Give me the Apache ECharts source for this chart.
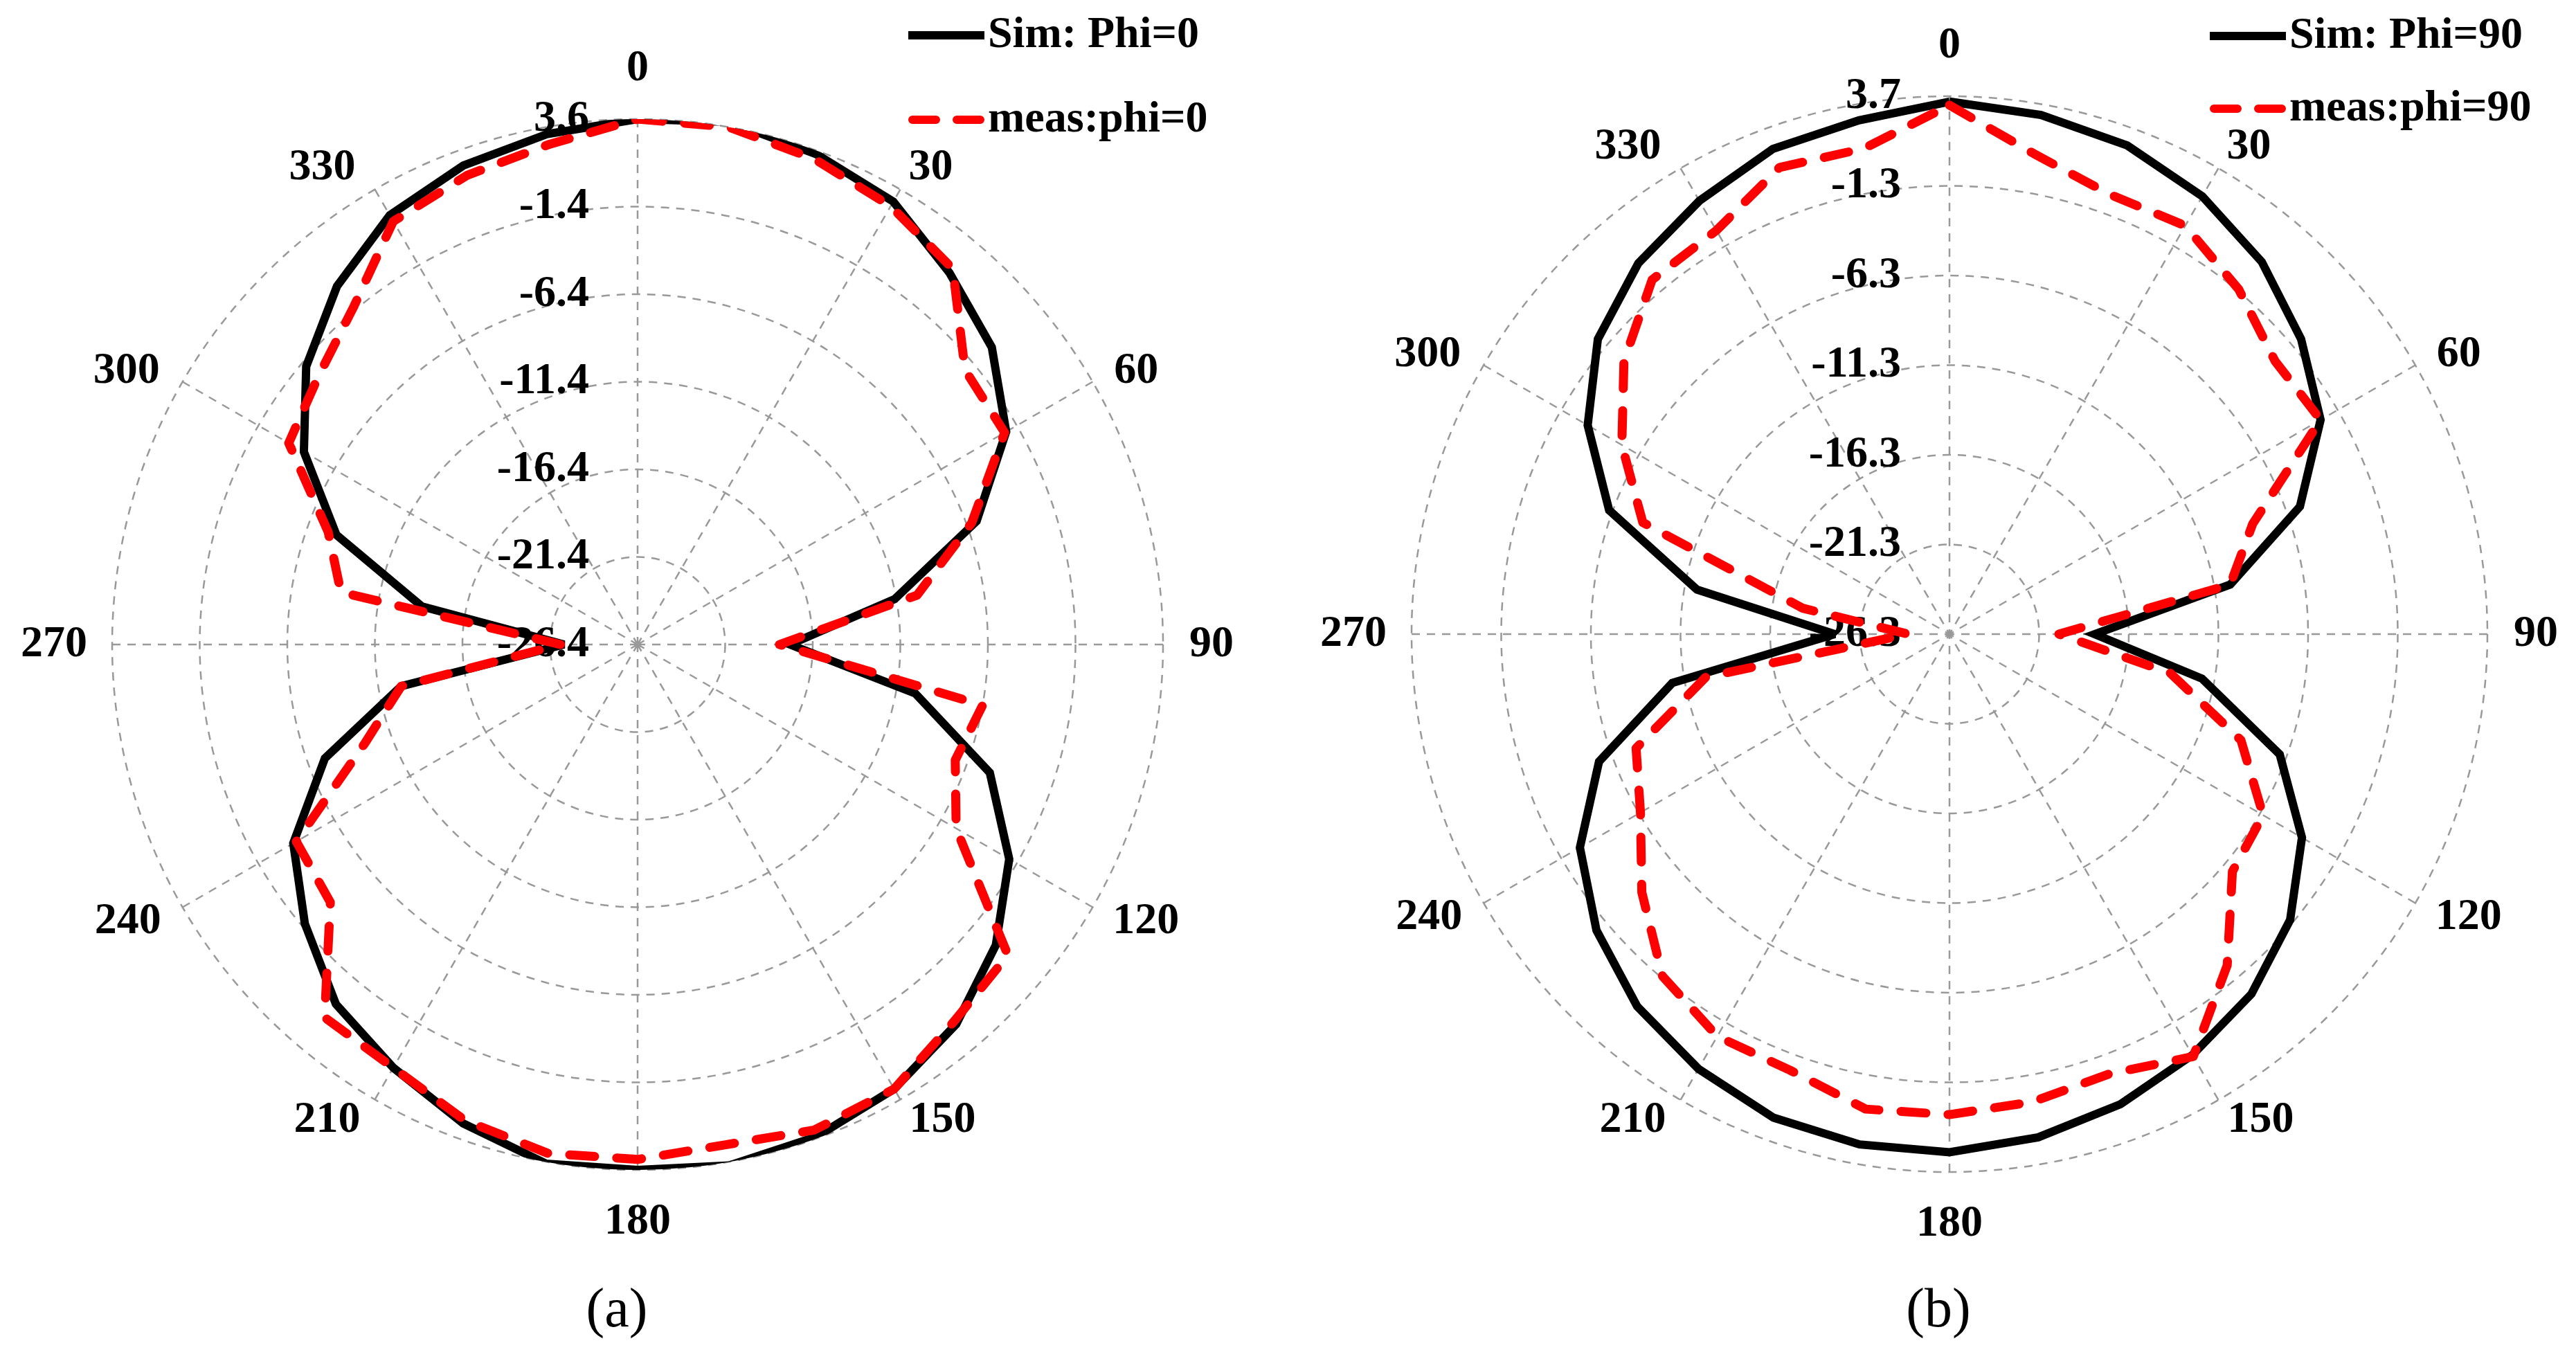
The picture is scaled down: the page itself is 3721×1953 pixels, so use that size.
<!DOCTYPE html>
<html>
<head>
<meta charset="utf-8">
<script src="https://cdn.jsdelivr.net/npm/echarts@6/dist/echarts.min.js"></script>
<style>
html,body{margin:0;padding:0;background:#ffffff;}
#chart{width:3721px;height:1953px;}
</style>
</head>
<body>
<div id="chart"></div>
<script>
// ---- data (angles in degrees, gain in dB) ----
const angles = [0,10,20,30,40,50,60,70,80,90,100,110,120,130,140,150,160,170,
                180,190,200,210,220,230,240,250,260,270,280,290,300,310,320,330,340,350];

const simA  = [3.6,3.9,3.4,2.8,1.3,0.0,-2.1,-5.8,-11.5,-17.7,-10.3,-5.0,-1.9,0.3,1.9,2.9,3.5,3.8,
               3.6,3.7,2.7,1.5,0.4,-1.6,-3.7,-7.4,-12.7,-22.2,-13.9,-8.1,-4.4,-1.7,0.3,1.9,2.7,3.2];
const measA = [3.6,3.6,3.1,2.5,1.6,-2.0,-2.2,-6.1,-10.2,-18.3,-6.4,-7.1,-5.4,1.2,1.7,2.9,3.1,2.6,
               3.0,3.1,2.5,1.5,1.4,-3.5,-3.9,-9.8,-12.7,-22.0,-9.2,-7.6,-3.4,-2.6,-1.2,1.5,2.1,2.6];

const simB  = [3.4,3.1,2.7,1.9,0.8,-0.7,-2.4,-5.5,-10.4,-18.2,-12.0,-6.7,-3.6,-1.5,-0.1,0.8,1.6,2.2,
               2.6,2.6,2.4,1.7,0.8,-0.6,-2.5,-5.5,-10.6,-19.9,-12.0,-6.1,-3.0,-0.7,0.7,1.6,2.5,2.8];
const measB = [3.2,0.9,-0.2,0.0,-1.2,-2.6,-2.4,-8.3,-10.4,-20.2,-13.8,-9.0,-6.1,-5.7,-2.2,0.9,-0.2,0.2,
               0.5,0.6,-0.4,-0.4,-1.4,-3.9,-6.4,-7.7,-12.5,-24.0,-18.0,-8.1,-5.2,-2.6,-0.5,-0.3,1.4,1.2];

const angleLabels   = ['0','30','60','90','120','150','180','210','240','270','300','330'];
const radiusLabelsA = ['-26.4','-21.4','-16.4','-11.4','-6.4','-1.4','3.6'];
const radiusLabelsB = ['-26.3','-21.3','-16.3','-11.3','-6.3','-1.3','3.7'];
const seriesNames   = ['Sim: Phi=0','meas:phi=0','Sim: Phi=90','meas:phi=90'];
const panelLabels   = ['(a)','(b)'];

const minA = -26.4, minB = -26.3;   // value at the centre of each plot
const span = 30, step = 5;

// ---- helpers ----
function toPolar(vals, min) {
  const d = angles.map((a, i) => [vals[i] - min, a]);
  d.push([vals[0] - min, 360]);     // close the loop
  return d;
}

const FONT = 'Liberation Serif';
const base = {fontFamily: FONT, fontWeight: 'bold', fontSize: 64, color: '#000', lineHeight: 64};
function st(extra) { return Object.assign({}, base, extra); }
const angleKeys = ['a0','a30','a60','a90','a120','a150','a180','a210','a240','a270','a300','a330'];
const angleRich = {
  a0:   st({padding: [0, 0, 32, 0], lineHeight: 98}),
  a30:  st({padding: [0, 0, 0, 8], lineHeight: 48}),
  a60:  st({padding: [0, 0, 0, 24], lineHeight: 22}),
  a90:  st({padding: [0, 0, 0, 30]}),
  a120: st({padding: [0, 0, 0, 22], lineHeight: 34}),
  a150: st({padding: [0, 0, 0, 9], lineHeight: 46}),
  a180: st({padding: [32, 0, 0, 0], lineHeight: 102}),
  a210: st({padding: [0, 17, 0, 0], lineHeight: 46}),
  a240: st({padding: [0, 24, 0, 0], lineHeight: 34}),
  a270: st({padding: [0, 28, 0, 0]}),
  a300: st({padding: [0, 26, 0, 0], lineHeight: 22}),
  a330: st({padding: [0, 24, 0, 0], lineHeight: 48})
};

const gridLine = {color: '#999999', width: 2.5, type: [12, 10]};

function angleAxis(idx) {
  return {
    polarIndex: idx, type: 'value', min: 0, max: 360, interval: 30,
    startAngle: 90, clockwise: true,
    axisLine: {show: false}, axisTick: {show: false},
    splitLine: {show: true, lineStyle: gridLine},
    axisLabel: {
      margin: 8,
      formatter: function (v) {
        const i = Math.round(v / 30);
        if (i >= angleLabels.length) return '';
        return '{' + angleKeys[i] + '|' + angleLabels[i] + '}';
      },
      rich: angleRich
    }
  };
}
function radiusAxis(idx, labels) {
  return {
    polarIndex: idx, type: 'value', min: 0, max: span, interval: step,
    axisLine: {show: false}, axisTick: {show: false},
    splitLine: {show: true, lineStyle: gridLine},
    axisLabel: st({
      margin: 70,
      formatter: function (v) { return labels[Math.round(v / step)]; }
    })
  };
}
function simSeries(name, idx, vals, min) {
  return {
    name: name, type: 'line', coordinateSystem: 'polar', polarIndex: idx,
    data: toPolar(vals, min), symbol: 'none', clip: false, z: 3,
    itemStyle: {color: '#000000'},
    lineStyle: {color: '#000000', width: 12, join: 'miter', miterLimit: 3}
  };
}
function measSeries(name, idx, vals, min) {
  return {
    name: name, type: 'line', coordinateSystem: 'polar', polarIndex: idx,
    data: toPolar(vals, min), symbol: 'none', clip: false, z: 4,
    itemStyle: {color: '#ff0000'},
    lineStyle: {color: '#ff0000', width: 13, type: [36, 32], cap: 'round', join: 'round'}
  };
}
const solidIcon  = 'path://M0,0 L110,0 L110,12 L0,12 Z';
const dashedIcon = 'path://M6,0 L40,0 A6,6 0 0 1 40,12 L6,12 A6,6 0 0 1 6,0 Z ' +
                   'M70,0 L104,0 A6,6 0 0 1 104,12 L70,12 A6,6 0 0 1 70,0 Z';
function legend(name, left, top, dashed) {
  return {
    data: [name], left: left, top: top, orient: 'horizontal',
    itemWidth: 110, itemHeight: 12, padding: 0, selectedMode: false,
    icon: dashed ? dashedIcon : solidIcon,
    itemStyle: {color: dashed ? '#ff0000' : '#000000', borderWidth: 0},
    textStyle: st({padding: [0, 0, 0, 0]})
  };
}

const chart = echarts.init(document.getElementById('chart'), null, {renderer: 'canvas'});
chart.setOption({
  backgroundColor: '#ffffff',
  animation: false,
  polar: [
    {center: [921, 931], radius: 759},
    {center: [2816, 916], radius: 777}
  ],
  angleAxis: [angleAxis(0), angleAxis(1)],
  radiusAxis: [radiusAxis(0, radiusLabelsA), radiusAxis(1, radiusLabelsB)],
  legend: [
    legend(seriesNames[0], 1312, 19, false),
    legend(seriesNames[1], 1312, 141, true),
    legend(seriesNames[2], 3192, 20, false),
    legend(seriesNames[3], 3192, 125, true)
  ],
  series: [
    simSeries(seriesNames[0], 0, simA, minA),
    measSeries(seriesNames[1], 0, measA, minA),
    simSeries(seriesNames[2], 1, simB, minB),
    measSeries(seriesNames[3], 1, measB, minB)
  ],
  graphic: [
    {type: 'text', x: 891, y: 1895, style: {text: panelLabels[0], align: 'center', verticalAlign: 'middle',
      font: '80px "Liberation Serif"', fill: '#000'}},
    {type: 'text', x: 2800, y: 1895, style: {text: panelLabels[1], align: 'center', verticalAlign: 'middle',
      font: '80px "Liberation Serif"', fill: '#000'}}
  ]
});
</script>
</body>
</html>
